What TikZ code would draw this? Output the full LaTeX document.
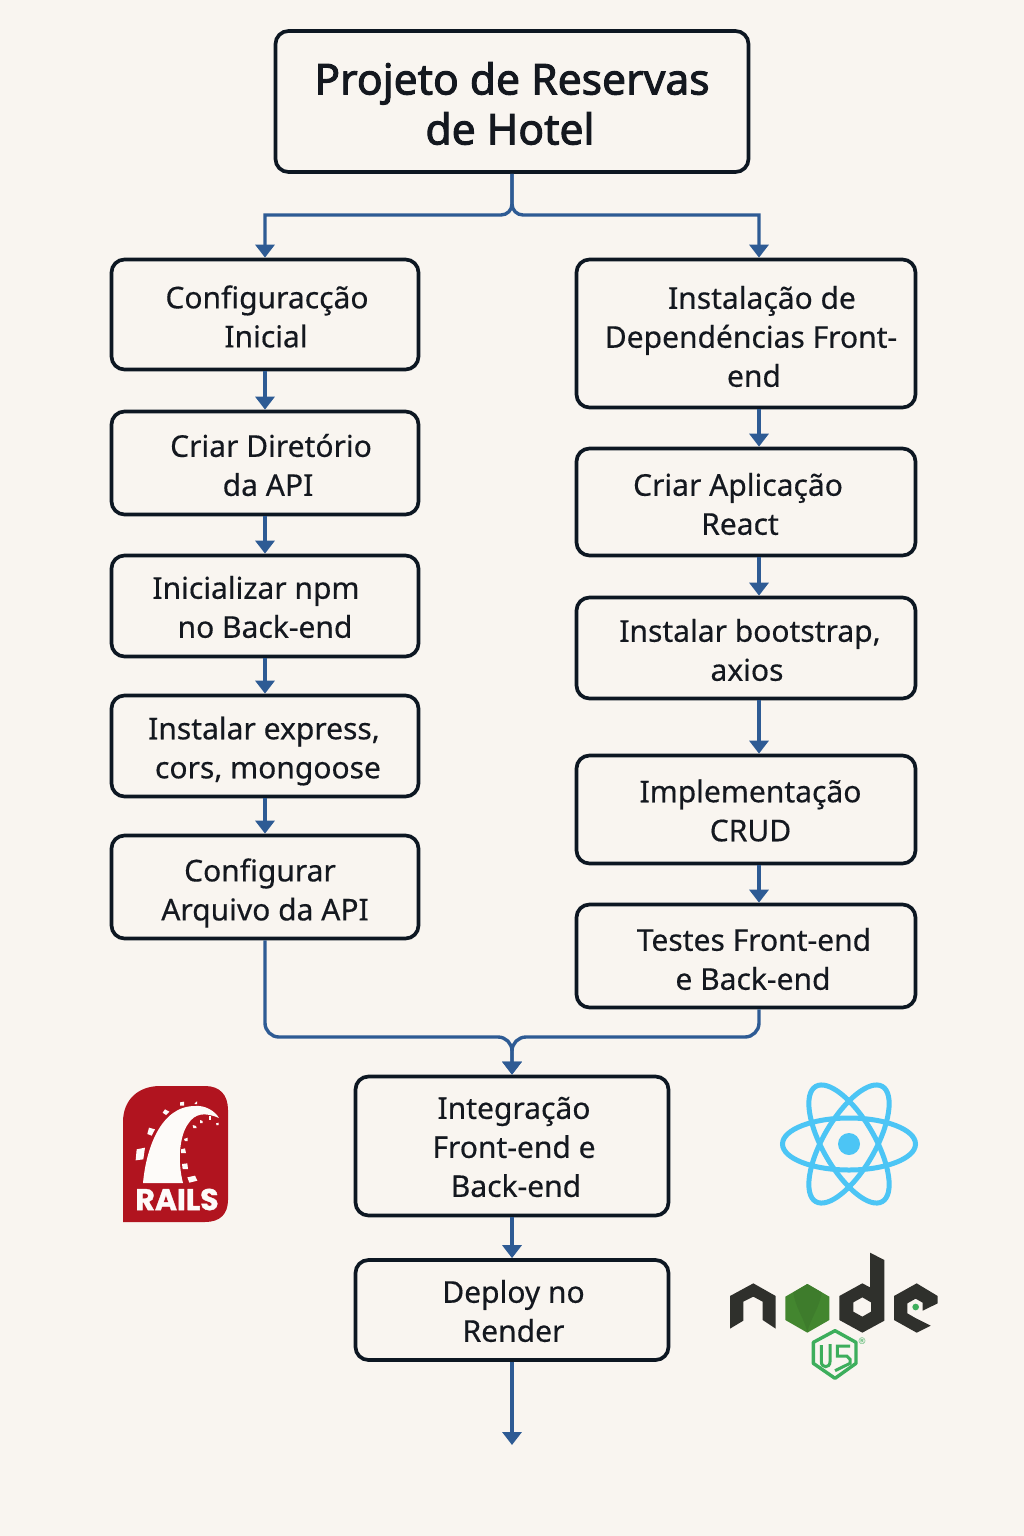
\documentclass[tikz,border=0pt]{standalone}
\usepackage{fontspec}
\setmainfont[Ligatures=NoCommon,RawFeature={embolden=0.4}]{Noto Sans}
\newfontfamily\titlefont[Ligatures=NoCommon,RawFeature={embolden=2.2}]{Noto Sans}
\newfontfamily\logofont[RawFeature={embolden=1.2}]{Poppins}
\newfontfamily\symfont{DejaVu Sans}
\usetikzlibrary{arrows.meta}
\definecolor{paperbg}{HTML}{F9F5F0}
\definecolor{boxline}{HTML}{0D1722}
\definecolor{labelink}{HTML}{14181F}
\definecolor{flowblue}{HTML}{2E5B94}
\definecolor{railsred}{HTML}{B1141F}
\definecolor{reactblue}{HTML}{4CC5F5}
\definecolor{nodedark}{HTML}{2F302C}
\definecolor{nodegreen}{HTML}{43862F}
\definecolor{nodeshade}{HTML}{3E7C2C}
\definecolor{jsgreen}{HTML}{3DAE5C}
\tikzset{
  stepbox/.style={draw=boxline,line width=3.7pt,rounded corners=13pt},
  steptext/.style={align=center,font=\fontsize{30}{39}\selectfont,text=labelink,inner sep=0pt},
  flowline/.style={draw=flowblue,line width=3.4pt},
  flowarrow/.style={flowline,-{Triangle[width=19pt,length=13pt]}},
}
\newcommand{\lsh}[1]{\hspace*{#1pt}}% nudges one line of a label sideways

\begin{document}
\begin{tikzpicture}[x=1pt,y=-1pt]
  \useasboundingbox (0,0) rectangle (1024,1536);
  \fill[paperbg] (0,0) rectangle (1024,1536);

  \coordinate (RightAxis) at (759,0);
  \coordinate (SplitLeft)  at (265,215);
  \coordinate (SplitMid)   at (512,215);
  \coordinate (SplitRight) at (759,215);
  \coordinate (MergeLeft)  at (265,1037);
  \coordinate (MergeMid)   at (512,1037);
  \coordinate (MergeRight) at (759,1037);
  \coordinate (FreeEnd)    at (512,1445);

  % title
  \node[stepbox,minimum width=473pt,minimum height=141pt] (title) at (512,101.5) {};
  \node[steptext,font=\titlefont\fontsize{42.6}{50}\selectfont] (titlelabel) at ([yshift=-2pt]title.center)
    {Projeto de Reservas\\\lsh{-4}de Hotel};

  % left column
  \node[stepbox,minimum width=307pt,minimum height=110pt] (config) at (265,314.5) {};
  \node[stepbox,minimum width=307pt,minimum height=103pt] (dir)    at (265,463) {};
  \node[stepbox,minimum width=307pt,minimum height=101pt] (npm)    at (265,606) {};
  \node[stepbox,minimum width=307pt,minimum height=101pt] (expr)   at (265,746) {};
  \node[stepbox,minimum width=307pt,minimum height=103pt] (arq)    at (265,887) {};
  \node[steptext] (configlabel) at ([xshift=1pt,yshift=-2pt]config.center) {\lsh{2}Configuracção\\Inicial};
  \node[steptext] (dirlabel)    at ([xshift=3pt,yshift=-2pt]dir.center) {\lsh{6}Criar Diretório\\da API};
  \node[steptext] (npmlabel)    at ([yshift=-1pt]npm.center) {\lsh{-18}Inicializar npm\\no Back-end};
  \node[steptext] (exprlabel)   at ([yshift=-5pt]expr.center) {\lsh{-2}Instalar express,\\\lsh{6}cors, mongoose};
  \node[steptext] (arqlabel)    at ([yshift=-6pt]arq.center) {\lsh{-10}Configurar\\Arquivo da API};

  % right column
  \node[stepbox,minimum width=339pt,minimum height=148pt] (deps)   at (746,333.5) {};
  \node[stepbox,minimum width=339pt,minimum height=107pt] (react)  at (746,502) {};
  \node[stepbox,minimum width=339pt,minimum height=101pt] (boot)   at (746,648) {};
  \node[stepbox,minimum width=339pt,minimum height=108pt] (crud)   at (746,809.5) {};
  \node[stepbox,minimum width=339pt,minimum height=103pt] (testes) at (746,956) {};
  \node[steptext] (depslabel)   at ([xshift=5pt,yshift=-3pt]deps.center) {\lsh{22}Instalação de\\Dependéncias Front-\\\lsh{6}end};
  \node[steptext] (reactlabel)  at ([xshift=-6pt,yshift=-2pt]react.center) {\lsh{-4}Criar Aplicação\\React};
  \node[steptext] (bootlabel)   at ([xshift=1pt,yshift=-2pt]boot.center) {\lsh{6}Instalar bootstrap,\\axios};
  \node[steptext] (crudlabel)   at ([xshift=4.5pt,yshift=-1pt]crud.center) {Implementação\\CRUD};
  \node[steptext] (testeslabel) at ([xshift=7pt,yshift=-3pt]testes.center) {\lsh{2}Testes Front-end\\e Back-end};

  % bottom
  \node[stepbox,minimum width=313pt,minimum height=139pt] (integ)  at (512,1146) {};
  \node[stepbox,minimum width=313pt,minimum height=100pt] (deploy) at (512,1310) {};
  \node[steptext] (integlabel)  at ([xshift=2pt,yshift=-1pt]integ.center) {Integração\\Front-end e\\\lsh{4}Back-end};
  \node[steptext] (deploylabel) at ([xshift=1.5pt,yshift=-1pt]deploy.center) {Deploy no\\Render};

  % connectors
  \draw[flowarrow] (title.south) [rounded corners=11pt] -- (SplitMid) [sharp corners] -- (SplitLeft) -- (config.north);
  \draw[flowarrow] (title.south) [rounded corners=11pt] -- (SplitMid) [sharp corners] -- (SplitRight) -- (SplitRight |- deps.north);
  \foreach \a/\b in {config/dir,dir/npm,npm/expr,expr/arq}{
    \draw[flowarrow] (\a.south) -- (\b.north);
  }
  \foreach \a/\b in {deps/react,react/boot,boot/crud,crud/testes}{
    \draw[flowarrow] (\a.south -| RightAxis) -- (\b.north -| RightAxis);
  }
  \draw[flowarrow,rounded corners=14pt] (arq.south) -- (MergeLeft) -- (MergeMid) -- (integ.north);
  \draw[flowarrow,rounded corners=14pt] (testes.south -| RightAxis) -- (MergeRight) -- (MergeMid) -- (integ.north);
  \draw[flowarrow] (integ.south) -- (deploy.north);
  \draw[flowarrow] (deploy.south) -- (FreeEnd);

  % rails logo
  \fill[railsred] (123,1222) -- (123,1122) .. controls (123,1100) and (138,1086) .. (160,1086)
    -- (205,1086) .. controls (220,1086) and (228,1095) .. (228,1110)
    -- (228,1200) .. controls (228,1214) and (220,1222) .. (205,1222) -- cycle;
  \fill[white!60!paperbg] (143,1183) .. controls (146,1150) and (160,1106) .. (195,1106)
    .. controls (205,1105) and (215,1111) .. (219,1118)
    .. controls (205,1112) and (195,1113) .. (188,1124)
    .. controls (180,1135) and (177,1160) .. (183,1183) -- cycle;
  \begin{scope}[shift={(100,1060)},scale=1/3]
    \foreach \ax/\ay/\bx/\by/\cx/\cy/\dx/\dy in {110/268/135/263/130/298/107/301,
        147/203/165/208/155/227/142/222,
        195/148/208/155/198/165/188/158,
        240/127/252/125/252/137/240/137,
        284/130/291/124/291/132/284/132,
        262/352/285/347/292/362/268/368,
        246/312/262/310/264/327/248/327,
        243/268/255/265/258/279/243/279,
        252/237/263/233/263/243/255/243,
        278/195/288/198/290/204/280/204,
        300/180/308/183/308/189/300/189,
        327/167/333/167/333/179/327/179,
        348/190/356/188/356/195/350/196}{
      \fill[white!60!paperbg] (\ax,\ay) -- (\bx,\by) -- (\cx,\cy) -- (\dx,\dy) -- cycle;
    }
  \end{scope}
  \node[text=white!60!paperbg,font=\logofont\bfseries\fontsize{30}{30}\selectfont,inner sep=0pt] (railstext) at (177,1199.5) {RAILS};

  % react logo
  \foreach \ang in {0,60,120}{
    \draw[reactblue,line width=5pt,rotate around={\ang:(849,1144)}] (849,1144) ellipse [x radius=66.5,y radius=26];
  }
  \fill[reactblue] (849,1144) circle (11pt);

  % node logo, traced in zoom coordinates
  \begin{scope}[shift={(710,1060)},scale=1/3]
    \fill[nodedark] (60,708) -- (130,670) -- (197,708) -- (197,806) -- (158,780) -- (158,725) -- (130,710)
      -- (100,725) -- (100,782) -- (60,806) -- cycle;
    \fill[nodegreen] (292,672) -- (358,710) -- (358,780) -- (292,818) -- (226,780) -- (226,710) -- cycle;
    \fill[nodeshade] (250,697) .. controls (255,740) and (280,770) .. (292,815)
      .. controls (304,770) and (330,740) .. (335,697) -- (292,672) -- cycle;
    \fill[nodedark,even odd rule] (480,578) -- (523,600) -- (523,782) -- (457,818) -- (388,780) -- (388,708)
      -- (457,670) -- (480,682) -- cycle
      (457,712) -- (483,727) -- (483,755) -- (457,770) -- (430,755) -- (430,727) -- cycle;
    \fill[nodedark] (552,708) -- (620,670) -- (683,708) -- (683,730) -- (638,752) -- (638,728) -- (617,716)
      -- (592,730) -- (592,760) -- (618,775) -- (662,797) -- (620,818) -- (552,780) -- cycle;
    \fill[jsgreen] (617,741) circle (10pt);
  \end{scope}
  % js badge
  \begin{scope}[shift={(800,1320)},scale=1/3]
    \draw[jsgreen,line width=3.4pt,line join=round] (105,32) -- (168,67) -- (168,130) -- (105,175)
      -- (40,130) -- (40,67) -- cycle;
    \draw[jsgreen,line width=3pt] (64,75) -- (64,125) .. controls (64,145) and (90,145) .. (90,125) -- (90,72);
    \draw[jsgreen,line width=3pt] (150,78) -- (112,78) -- (112,108) -- (140,108) -- (150,118) -- (150,130) -- (105,152);
  \end{scope}
  \node[text=jsgreen,font=\symfont\fontsize{9}{9}\selectfont,inner sep=0pt] (regmark) at (862,1341) {®};
\end{tikzpicture}
\end{document}
